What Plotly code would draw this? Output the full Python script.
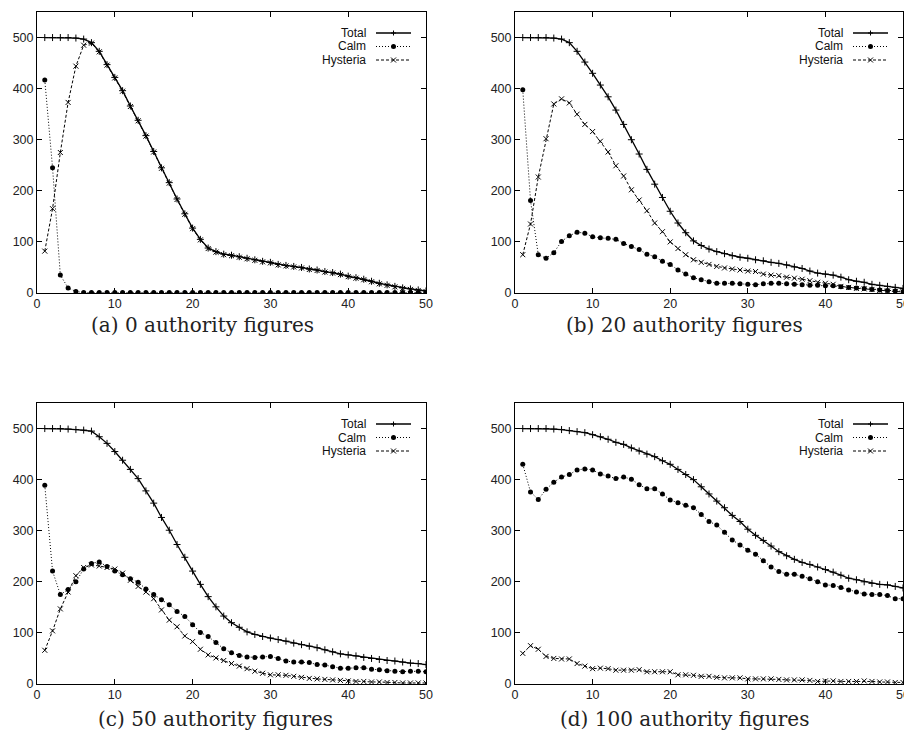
import plotly.graph_objects as go

# The page body adds an 8px margin, so the figure is 8px smaller on each axis
# and all layout pixel positions are expressed relative to that offset.
OFF = 8
W, H = 912 - OFF, 745 - OFF
steps = list(range(1, 51))

# ---- (a) 0 authority figures ----
total_a = [500, 500, 500, 500, 499, 497, 490, 473, 447, 422,
           396, 366, 338, 308, 277, 245, 216, 184, 155, 127,
           105, 88, 81, 76, 74, 71, 68, 65, 62, 60,
           56, 54, 52, 50, 47, 45, 42, 40, 37, 33,
           30, 27, 23, 19, 16, 13, 10, 8, 6, 4]
calm_a = [417, 245, 35, 10, 3, 1, 1, 1, 1, 1,
          1, 1, 1, 1, 1, 1, 1, 1, 1, 1,
          1, 1, 1, 1, 1, 1, 1, 1, 1, 1,
          1, 1, 1, 1, 1, 1, 1, 1, 1, 1,
          1, 1, 1, 1, 1, 1, 1, 1, 1, 1]
hyst_a = [82, 165, 275, 373, 444, 485, 489, 472, 446, 421,
          395, 365, 337, 307, 276, 244, 215, 183, 154, 126,
          104, 87, 80, 75, 73, 70, 67, 64, 61, 59,
          55, 53, 51, 49, 46, 44, 41, 39, 36, 32,
          29, 26, 22, 18, 15, 12, 9, 7, 5, 3]

# ---- (b) 20 authority figures ----
total_b = [500, 500, 500, 500, 499, 497, 490, 473, 452, 430,
           407, 384, 358, 330, 300, 272, 242, 213, 187, 160,
           137, 118, 102, 93, 86, 81, 77, 73, 70, 68,
           65, 63, 60, 58, 55, 51, 48, 43, 39, 37,
           35, 31, 26, 23, 21, 17, 15, 13, 11, 9]
calm_b = [398, 181, 75, 68, 79, 101, 112, 119, 117, 110,
          108, 107, 105, 97, 91, 85, 76, 71, 62, 56,
          45, 37, 30, 26, 22, 19, 19, 19, 18, 17,
          16, 18, 19, 19, 18, 17, 16, 15, 15, 14,
          14, 12, 11, 10, 9, 7, 6, 5, 4, 3]
hyst_b = [75, 135, 227, 302, 370, 380, 372, 350, 330, 316,
          297, 276, 249, 229, 202, 182, 161, 137, 120, 100,
          87, 75, 65, 60, 56, 52, 49, 47, 45, 43,
          42, 37, 35, 34, 31, 29, 27, 24, 21, 19,
          17, 13, 11, 9, 8, 7, 5, 4, 3, 2]

# ---- (c) 50 authority figures ----
total_c = [500, 500, 500, 499, 498, 497, 495, 484, 471, 455,
           438, 420, 402, 378, 354, 326, 301, 273, 248, 221,
           195, 171, 151, 133, 120, 111, 102, 97, 93, 90,
           87, 84, 80, 77, 74, 71, 67, 63, 59, 57,
           55, 52, 50, 48, 46, 45, 43, 41, 40, 38]
calm_c = [389, 221, 175, 185, 200, 225, 236, 239, 230, 221,
          214, 206, 199, 186, 175, 165, 155, 142, 132, 116,
          101, 93, 81, 69, 61, 56, 53, 52, 53, 54,
          50, 45, 43, 43, 42, 38, 37, 34, 31, 31,
          32, 32, 29, 28, 26, 25, 24, 25, 25, 24]
hyst_c = [66, 104, 147, 180, 212, 228, 233, 231, 228, 225,
          217, 203, 191, 180, 167, 145, 125, 112, 94, 83,
          68, 57, 51, 46, 40, 35, 30, 25, 21, 18,
          18, 17, 15, 13, 11, 10, 9, 8, 7, 6,
          5, 5, 4, 4, 3, 3, 2, 2, 2, 2]

# ---- (d) 100 authority figures ----
total_d = [500, 500, 500, 500, 499, 498, 496, 494, 492, 488,
           484, 479, 473, 469, 462, 456, 450, 445, 437, 430,
           420, 410, 400, 386, 372, 358, 345, 330, 318, 303,
           291, 281, 270, 259, 251, 244, 238, 234, 229, 224,
           219, 213, 207, 204, 200, 197, 195, 194, 191, 188]
calm_d = [430, 376, 361, 381, 395, 405, 410, 419, 421, 419,
          411, 407, 402, 405, 401, 390, 382, 382, 372, 360,
          355, 350, 345, 332, 318, 311, 297, 282, 272, 262,
          254, 241, 229, 220, 215, 215, 211, 206, 200, 194,
          193, 189, 184, 180, 176, 175, 175, 173, 167, 167]
hyst_d = [60, 75, 68, 54, 50, 49, 49, 40, 35, 30,
          31, 30, 27, 27, 27, 28, 24, 24, 24, 24,
          18, 18, 17, 15, 15, 13, 12, 12, 12, 10,
          10, 10, 10, 9, 8, 8, 8, 7, 5, 6,
          6, 5, 5, 5, 6, 5, 4, 4, 3, 3]

captions = ["(a) 0 authority figures", "(b) 20 authority figures",
            "(c) 50 authority figures", "(d) 100 authority figures"]
series_names = ["Total", "Calm", "Hysteria"]
x_ticks = [0, 10, 20, 30, 40, 50]
y_ticks = [0, 100, 200, 300, 400, 500]

panels = [(total_a, calm_a, hyst_a), (total_b, calm_b, hyst_b),
          (total_c, calm_c, hyst_c), (total_d, calm_d, hyst_d)]

# plot-area pixel boxes on the page (left, right, top, bottom)
boxes = [(37, 426, 12, 293), (515, 903, 12, 293),
         (37, 426, 403, 684), (515, 903, 403, 684)]
caption_pos = [(202, 325), (684, 325), (215, 719), (684, 719)]

styles = [
    dict(line=dict(color="black", width=1.3, dash="solid"),
         marker=dict(symbol="cross-thin", size=5, line=dict(color="black", width=1))),
    dict(line=dict(color="black", width=1, dash="1px,2px"),
         marker=dict(symbol="circle", size=5, color="black")),
    dict(line=dict(color="black", width=1, dash="3px,2px"),
         marker=dict(symbol="x-thin", size=5, line=dict(color="black", width=1))),
]

fig = go.Figure()
tickfont = dict(family="Liberation Sans, Arial, sans-serif", size=12.5, color="#222")
layout = {}
shapes = []
annotations = []

for i, (series, box) in enumerate(zip(panels, boxes)):
    sfx = "" if i == 0 else str(i + 1)
    l, r, t, b = [v - OFF for v in box]
    xdom = [l / W, r / W]
    ydom = [1 - b / H, 1 - t / H]
    layout["xaxis" + sfx] = dict(
        domain=xdom, range=[0, 50], tickvals=x_ticks, ticks="inside", ticklen=5,
        tickcolor="black", showline=True, linecolor="black", linewidth=1,
        mirror="ticks", showgrid=False, zeroline=False, tickfont=tickfont,
        ticklabelstandoff=-1, anchor="y" + sfx, fixedrange=True, automargin=False)
    layout["yaxis" + sfx] = dict(
        domain=ydom, range=[0, 550], tickvals=y_ticks, ticks="inside", ticklen=5,
        tickcolor="black", showline=True, linecolor="black", linewidth=1,
        mirror="ticks", showgrid=False, zeroline=False, tickfont=tickfont,
        anchor="x" + sfx, fixedrange=True, automargin=False)
    for name, vals, st in zip(series_names, series, styles):
        fig.add_trace(go.Scatter(
            x=steps, y=vals, name=name, mode="lines+markers",
            xaxis="x" + sfx, yaxis="y" + sfx, showlegend=False,
            line=st["line"], marker=st["marker"]))

    # gnuplot-style key (text right-aligned, sample on the right)
    pw, ph = r - l, b - t
    xr, yr = "x" + sfx + " domain", "y" + sfx + " domain"
    text_right = pw - 59
    s0, s1 = pw - 50, pw - 15
    mid = (s0 + s1) / 2
    key_y = [21, 34.5, 48]
    for k, (name, st) in enumerate(zip(series_names, styles)):
        yk = 1 - key_y[k] / ph
        annotations.append(dict(
            x=text_right / pw, y=yk, xref=xr, yref=yr, text=name, showarrow=False,
            xanchor="right", yanchor="middle", borderpad=0,
            font=dict(family="Liberation Sans, Arial, sans-serif", size=12, color="#111")))
        shapes.append(dict(type="line", xref=xr, yref=yr, x0=s0 / pw, x1=s1 / pw,
                           y0=yk, y1=yk, line=st["line"]))
        mx, my = mid / pw, yk
        dx, dy = 2.5 / pw, 2.5 / ph
        if k == 0:
            path = f"M{mx-dx},{my} L{mx+dx},{my} M{mx},{my-dy} L{mx},{my+dy}"
            shapes.append(dict(type="path", xref=xr, yref=yr, path=path,
                               line=dict(color="black", width=1)))
        elif k == 1:
            shapes.append(dict(type="circle", xref=xr, yref=yr,
                               x0=mx - dx, x1=mx + dx, y0=my - dy, y1=my + dy,
                               fillcolor="black", line=dict(color="black", width=0)))
        else:
            path = f"M{mx-dx},{my-dy} L{mx+dx},{my+dy} M{mx-dx},{my+dy} L{mx+dx},{my-dy}"
            shapes.append(dict(type="path", xref=xr, yref=yr, path=path,
                               line=dict(color="black", width=1)))

    cx, cy = caption_pos[i]
    annotations.append(dict(
        x=(cx - OFF) / W, y=1 - (cy - OFF) / H, xref="paper", yref="paper",
        text=captions[i], showarrow=False, xanchor="center", yanchor="middle",
        borderpad=0,
        font=dict(family="DejaVu Serif, Liberation Serif, serif", size=20, color="#222")))

fig.update_layout(
    width=W, height=H, margin=dict(l=0, r=0, t=0, b=0, autoexpand=False),
    paper_bgcolor="white", plot_bgcolor="white",
    showlegend=False, shapes=shapes, annotations=annotations, **layout)

fig.write_html("out.html")
